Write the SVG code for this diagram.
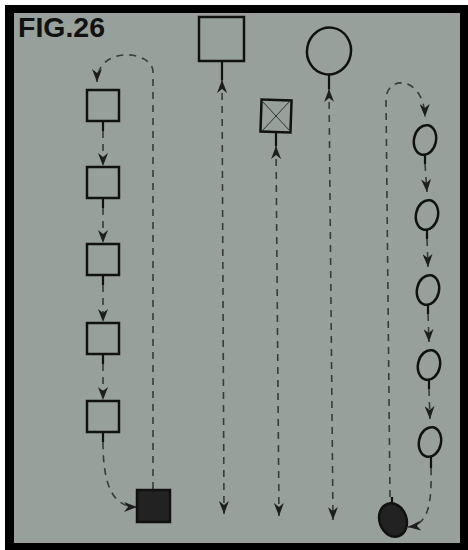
<svg xmlns="http://www.w3.org/2000/svg" width="468" height="550" viewBox="0 0 468 550">
  <defs>
    <marker id="ah" viewBox="0 0 13 10" refX="13" refY="5" markerWidth="13" markerHeight="10" markerUnits="userSpaceOnUse" orient="auto-start-reverse">
      <path d="M0,0 L13,5 L0,10 L4,5 Z" fill="#1e1e1e"/>
    </marker>
    <style>
      .node { fill: none; stroke: #111; stroke-width: 2.5; }
      .solid { fill: #222; stroke: #111; stroke-width: 2.5; }
      .cross { stroke: #333; stroke-width: 1; }
      .dash { fill: none; stroke: #3a3a3a; stroke-width: 1.6; stroke-dasharray: 7 6; }
      .stub { fill: none; stroke: #111; stroke-width: 2.2; }
      .arrow { marker-end: url(#ah); }
      .arrow2 { marker-start: url(#ah); marker-end: url(#ah); }
      .title { font-family: "Liberation Sans", Arial, sans-serif; font-weight: bold; font-size: 27px; fill: #111; }
    </style>
  </defs>

  <rect x="0" y="0" width="468" height="550" fill="#ffffff"/>
  <rect x="5" y="5" width="463" height="545" fill="#000000"/>
  <rect x="14" y="13" width="446" height="530" fill="#98a09b"/>

  <text class="title" x="18" y="37" textLength="87" lengthAdjust="spacingAndGlyphs">FIG.26</text>

  <g id="connectors">
    <path class="dash arrow" d="M153,489 L153,72 C153,50 97,45 97,82"/>
    <line class="stub" x1="103" y1="121" x2="103" y2="131"/>
    <path class="dash arrow" d="M103,131 L103,166"/>
    <line class="stub" x1="103" y1="198" x2="103" y2="208"/>
    <path class="dash arrow" d="M103,208 L103,243"/>
    <line class="stub" x1="103" y1="275" x2="103" y2="285"/>
    <path class="dash arrow" d="M103,285 L103,322"/>
    <line class="stub" x1="103" y1="354" x2="103" y2="364"/>
    <path class="dash arrow" d="M103,364 L103,400"/>
    <line class="stub" x1="103" y1="432" x2="103" y2="442"/>
    <path class="dash arrow" d="M103,442 C103,490 115,507 137,507"/>

    <line class="stub" x1="222" y1="61" x2="222" y2="80"/>
    <path class="dash arrow2" d="M222,80 L224,514"/>

    <line class="stub" x1="276" y1="132" x2="276" y2="146"/>
    <path class="dash arrow2" d="M276,146 L279,516"/>

    <line class="stub" x1="329" y1="74" x2="329" y2="89"/>
    <path class="dash arrow2" d="M329,89 L333,520"/>

    <line class="stub" x1="392" y1="497" x2="392" y2="504"/>
    <path class="dash arrow" d="M390,497 L386,100 C386,74 424,76 425,117"/>
    <line class="stub" x1="425" y1="155" x2="425" y2="164"/>
    <path class="dash arrow" d="M425,164 L427,192"/>
    <line class="stub" x1="427" y1="230" x2="427" y2="239"/>
    <path class="dash arrow" d="M427,239 L428,267"/>
    <line class="stub" x1="428" y1="305" x2="428" y2="314"/>
    <path class="dash arrow" d="M428,314 L429,342"/>
    <line class="stub" x1="429" y1="380" x2="429" y2="389"/>
    <path class="dash arrow" d="M429,389 L430,419"/>
    <line class="stub" x1="431" y1="457" x2="431" y2="468"/>
    <path class="dash arrow" d="M431,468 C432,505 428,525 408,527"/>
  </g>

  <g id="sq1"><rect class="node" x="87" y="90" width="32" height="31"/></g>
  <g id="sq2"><rect class="node" x="87" y="167" width="32" height="31"/></g>
  <g id="sq3"><rect class="node" x="87" y="244" width="32" height="31"/></g>
  <g id="sq4"><rect class="node" x="87" y="323" width="32" height="31"/></g>
  <g id="sq5"><rect class="node" x="87" y="401" width="32" height="31"/></g>
  <g id="sqBlack"><rect class="solid" x="137" y="490" width="33" height="32"/></g>

  <g id="bigSquare"><rect class="node" x="199" y="17" width="45" height="44"/></g>

  <g id="crossSquare">
    <rect class="node" x="261" y="100" width="30" height="32" transform="rotate(2 276 116)"/>
    <line class="cross" x1="262" y1="101" x2="290" y2="131"/>
    <line class="cross" x1="290" y1="101" x2="262" y2="131"/>
  </g>

  <g id="bigCircle"><ellipse class="node" cx="329" cy="51" rx="22" ry="23.5" transform="rotate(10 329 51)"/></g>

  <g id="el1"><ellipse class="node" cx="425" cy="140" rx="11" ry="15" transform="rotate(12 425 140)"/></g>
  <g id="el2"><ellipse class="node" cx="427" cy="215" rx="11" ry="15" transform="rotate(12 427 215)"/></g>
  <g id="el3"><ellipse class="node" cx="428" cy="290" rx="11" ry="15" transform="rotate(12 428 290)"/></g>
  <g id="el4"><ellipse class="node" cx="429" cy="365" rx="11" ry="15" transform="rotate(12 429 365)"/></g>
  <g id="el5"><ellipse class="node" cx="430" cy="442" rx="11" ry="15" transform="rotate(12 430 442)"/></g>
  <g id="elBlack"><ellipse class="solid" cx="393" cy="520" rx="13.5" ry="17" transform="rotate(-20 393 520)"/></g>
</svg>
